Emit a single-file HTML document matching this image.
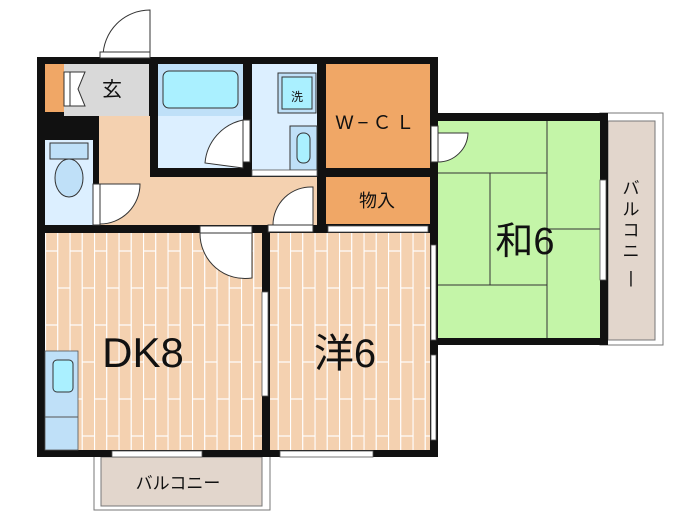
<!DOCTYPE html>
<html><head><meta charset="utf-8"><style>
html,body{margin:0;padding:0;background:#fff;width:700px;height:525px;overflow:hidden}
text{font-family:"Liberation Sans","Noto Sans CJK JP",sans-serif;fill:#111}
</style></head><body>
<svg width="700" height="525" viewBox="0 0 700 525" xmlns="http://www.w3.org/2000/svg">
<defs>
<pattern id="fl" width="24.5" height="74" patternUnits="userSpaceOnUse" x="45" y="233">
<rect width="24.5" height="74" fill="#f4d1b0"/>
<line x1="0.5" y1="0" x2="0.5" y2="74" stroke="#fff" stroke-width="1.2"/>
<line x1="12.7" y1="0" x2="12.7" y2="74" stroke="#fff" stroke-width="1.2"/>
<line x1="0" y1="18" x2="12.5" y2="18" stroke="#fff" stroke-width="1.2"/>
<line x1="12.5" y1="55" x2="24.5" y2="55" stroke="#fff" stroke-width="1.2"/>
</pattern>
</defs>
<rect x="94" y="450" width="176" height="60" fill="#fff" stroke="#777" stroke-width="1"/>
<rect x="101" y="457" width="161" height="49" fill="#e2d6cc" stroke="#777" stroke-width="1"/>
<rect x="600" y="113" width="63" height="232" fill="#fff" stroke="#777" stroke-width="1"/>
<rect x="608" y="121" width="47" height="219" fill="#e2d6cc" stroke="#777" stroke-width="1"/>
<rect x="37" y="57" width="401" height="400" fill="#111"/>
<rect x="430" y="113" width="178" height="232" fill="#111"/>
<rect x="45" y="64" width="19" height="48" fill="#f0a766"/>
<rect x="64" y="64" width="85" height="52" fill="#d9d9d9"/>
<rect x="158" y="64" width="85" height="104" fill="#dcefff"/>
<rect x="158" y="64" width="85" height="52" fill="#bfe0f8"/>
<rect x="163" y="71" width="75" height="37" rx="6" fill="#aaf0ff" stroke="#333"/>
<rect x="252" y="64" width="65" height="106" fill="#dcefff"/>
<rect x="278" y="73" width="38" height="40" fill="#bfe0f8" stroke="#333"/>
<rect x="282" y="77" width="30" height="32" fill="#aaf0ff" stroke="#333"/>
<rect x="290" y="126" width="27" height="44" fill="#bfe0f8" stroke="#333"/>
<rect x="297" y="133" width="13" height="30" rx="6" fill="#aaf0ff" stroke="#333"/>
<rect x="326" y="64" width="104" height="104" fill="#f0a766"/>
<rect x="326" y="177" width="104" height="47" fill="#f0a766"/>
<rect x="99" y="116" width="51" height="109" fill="#f4d1b0"/>
<rect x="99" y="177" width="218" height="48" fill="#f4d1b0"/>
<rect x="45" y="140" width="48" height="85" fill="#dcefff"/>
<rect x="50" y="143" width="38" height="16" fill="#bfe0f8" stroke="#333"/>
<ellipse cx="69" cy="178" rx="14" ry="19" fill="#bfe0f8" stroke="#333"/>
<rect x="45" y="233" width="217" height="217" fill="url(#fl)"/>
<rect x="270" y="233" width="160" height="217" fill="url(#fl)"/>
<rect x="45" y="351" width="33" height="99" fill="#bfe0f8" stroke="#555" stroke-width="0.8"/>
<line x1="45" y1="417" x2="78" y2="417" stroke="#555"/>
<rect x="53" y="360" width="20" height="32" rx="4" fill="#aaf0ff" stroke="#333"/>
<rect x="438" y="121" width="162" height="217" fill="#c4f5a8"/>
<g stroke="#333" stroke-width="1" fill="none">
<line x1="547" y1="121" x2="547" y2="338"/>
<line x1="438" y1="173" x2="547" y2="173"/>
<line x1="490" y1="173" x2="490" y2="285"/>
<line x1="438" y1="285" x2="547" y2="285"/>
<line x1="547" y1="229" x2="600" y2="229"/>
</g>
<g fill="#fff" stroke="#333" stroke-width="1">
<path d="M150 57 L150 10 A47 47 0 0 0 103 57 Z"/>
<rect x="100" y="52" width="50" height="6"/>
<path d="M243 168 L243 120 A48 48 0 0 0 205 163 Z"/>
<rect x="243" y="120" width="7" height="42"/>
<path d="M100 184 L140 184 A40 40 0 0 1 100 224 Z"/>
<rect x="93" y="184" width="7" height="41"/>
<path d="M313 225 L313 187 A38 38 0 0 0 273 225 Z"/>
<rect x="268" y="225" width="45" height="7"/>
<path d="M252 233 L252 278 A45 45 0 0 1 200 233 Z"/>
<rect x="200" y="226" width="52" height="7"/>
<path d="M438 162 A30 30 0 0 0 468 133 L438 133 Z"/>
<rect x="431" y="126" width="7" height="36"/>
<rect x="64" y="72" width="6" height="34"/>
<path d="M70 72 L85 72 L78 89 L85 106 L70 106 Z"/>
</g>
<g fill="#fff" stroke="#555" stroke-width="0.8">
<rect x="252" y="170" width="65" height="6"/>
<rect x="328" y="226" width="100" height="6"/>
<rect x="262" y="292" width="6" height="104"/>
<rect x="431" y="245" width="5" height="95"/>
<rect x="431" y="355" width="5" height="85"/>
<rect x="112" y="451" width="90" height="6"/>
<rect x="280" y="451" width="93" height="6"/>
<rect x="600" y="180" width="6" height="100"/>
</g>
<text x="112" y="96" font-size="20" text-anchor="middle">玄</text>
<text x="297" y="101" font-size="12" text-anchor="middle">洗</text>
<text x="377" y="129" font-size="19" text-anchor="middle" letter-spacing="4">W−ＣＬ</text>
<text x="377" y="207" font-size="18" text-anchor="middle">物入</text>
<text x="143" y="367" font-size="42" text-anchor="middle">DK8</text>
<text x="345" y="367" font-size="40" text-anchor="middle">洋6</text>
<text x="525" y="254" font-size="38" text-anchor="middle">和6</text>
<text x="178" y="489" font-size="17" text-anchor="middle">バルコニー</text>
<g font-size="17" text-anchor="middle">
<text x="631" y="194">バ</text><text x="631" y="215">ル</text><text x="631" y="236">コ</text><text x="631" y="257">ニ</text><text x="631" y="283">|</text>
</g>
</svg>
</body></html>
